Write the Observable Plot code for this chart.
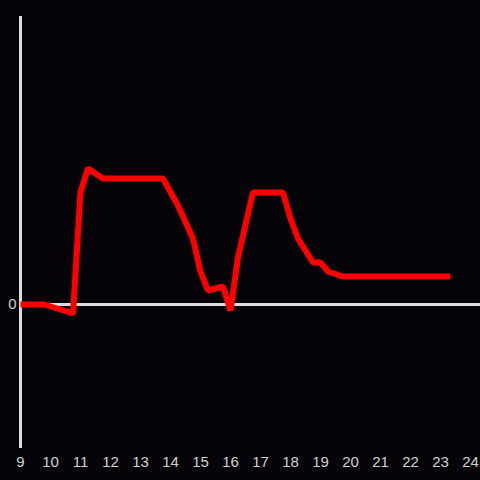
<!DOCTYPE html>
<html>
<head>
<meta charset="utf-8">
<script src="https://cdn.jsdelivr.net/npm/d3@7"></script>
<script src="https://cdn.jsdelivr.net/npm/@observablehq/plot@0.6"></script>
<style>
  html, body { margin: 0; padding: 0; background: #060408; }
  #chart { width: 480px; height: 480px; }
</style>
</head>
<body>
<div id="chart"></div>
<script>
// Hours of day (x) and values (y)
const hours  = [9, 9.8, 10.75, 11, 11.25, 11.75, 13.75, 14.25, 14.75, 15, 15.25, 15.75, 16, 16.25, 16.75, 17.75, 18, 18.25, 18.75, 19, 19.25, 19.75, 23.33];
const values = [0, 0, -9, 112, 136, 126, 126, 99, 66, 33, 14, 18, -6, 47, 112, 112, 86, 66, 42, 42, 33, 28, 28];
const xTicks = [9, 10, 11, 12, 13, 14, 15, 16, 17, 18, 19, 20, 21, 22, 23, 24];
const yTicks = [0];

const data = hours.map((h, i) => ({hour: h, value: values[i]}));

const chart = Plot.plot({
  width: 480,
  height: 480,
  marginLeft: 20,
  marginRight: 0,
  marginTop: 16,
  marginBottom: 32,
  style: {
    background: "#060408",
    color: "#d0d0d0",
    fontFamily: "'Liberation Sans', Arial, sans-serif",
    fontSize: "15px"
  },
  x: {domain: [9, 24 + 1/3]},
  y: {domain: [-144, 288]},
  marks: [
    Plot.axisX({ticks: xTicks, tickSize: 0, tickPadding: 8, tickFormat: d => String(d), label: null, fontSize: 15}),
    Plot.axisY({ticks: yTicks, tickSize: 0, tickPadding: 4, tickFormat: d => String(d), label: null, fontSize: 15}),
    Plot.ruleX([9], {stroke: "#dcdcdc", strokeWidth: 3}),
    Plot.ruleY([0], {stroke: "#dcdcdc", strokeWidth: 3}),
    Plot.line(data, {x: "hour", y: "value", stroke: "#ff0000", strokeWidth: 6, strokeLinejoin: "miter", strokeLinecap: "butt"})
  ]
});
document.getElementById("chart").appendChild(chart);
</script>
</body>
</html>
